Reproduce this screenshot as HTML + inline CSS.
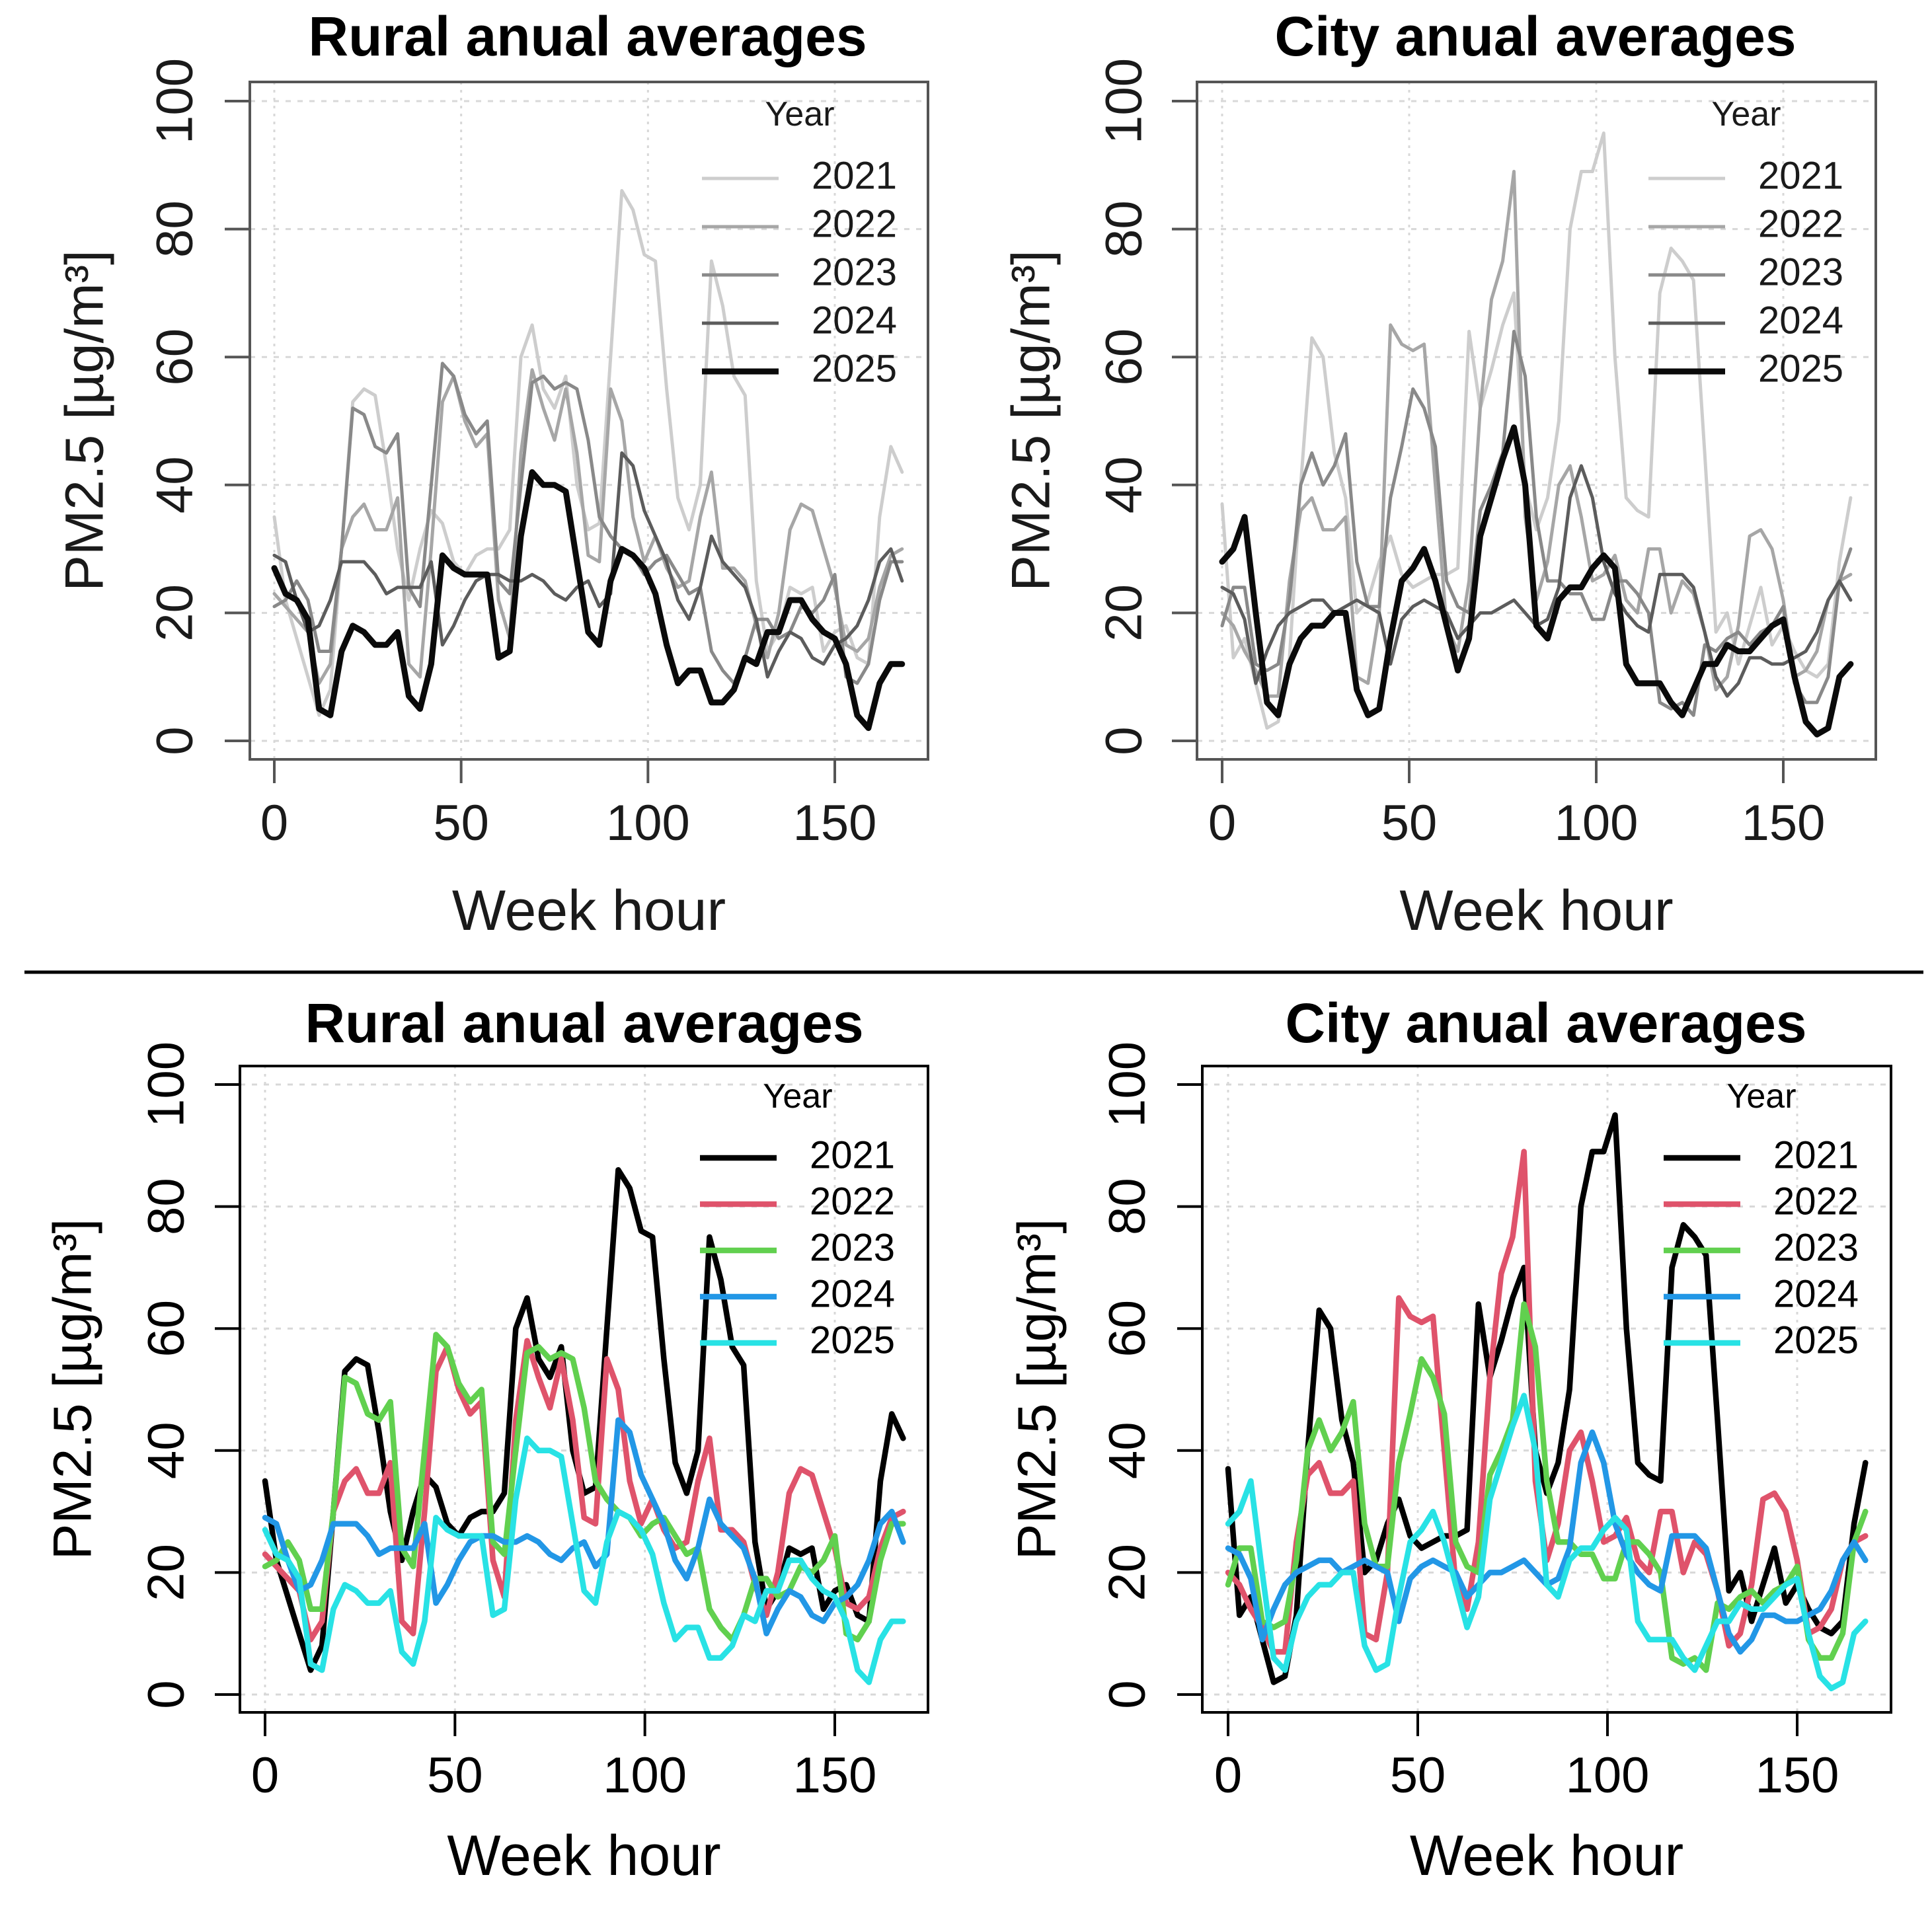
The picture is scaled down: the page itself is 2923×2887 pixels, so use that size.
<!DOCTYPE html>
<html><head><meta charset="utf-8">
<style>
html,body{margin:0;padding:0;background:#fff;}
svg{display:block;font-family:"Liberation Sans",Arial,sans-serif;}
</style></head>
<body>
<svg id="fig" width="2923" height="2887" viewBox="0 0 2923 2887" xmlns="http://www.w3.org/2000/svg">
<rect x="0" y="0" width="2923" height="2887" fill="#fff"/>
<line x1="37" y1="1471" x2="2910" y2="1471" stroke="#000" stroke-width="5"/>
</svg>
<script>
const hours = [0,3,6,9,12,15,18,21,24,27,30,33,36,39,42,45,48,51,54,57,60,63,66,69,72,75,78,81,84,87,90,93,96,99,102,105,108,111,114,117,120,123,126,129,132,135,138,141,144,147,150,153,156,159,162,165,168];
const years = ["2021","2022","2023","2024","2025"];
const yTicks = [0,20,40,60,80,100];
const xTicks = [0,50,100,150];

const rural2021 = [35,22,16,10,4,8,30,53,55,54, 43,30,22,30,36,34,28,26,29,30, 30,33,60,65,55,52,57,40,33,34, 60,86,83,76,75,55,38,33,40,75, 68,57,54,25,14,17,24,23,24,14, 17,18,13,12,35,46,42];
const rural2022 = [23,21,19,17,9,12,30,35,37,33, 33,38,12,10,30,53,57,50,46,48, 22,16,45,58,52,47,55,45,29,28, 55,50,35,28,32,27,24,25,35,42, 27,27,25,18,13,20,33,37,36,30, 24,15,14,16,24,29,30];
const rural2023 = [21,22,25,22,14,14,30,52,51,46, 45,48,24,21,40,59,57,51,48,50, 25,23,40,56,57,55,56,55,47,35, 32,30,29,26,28,29,26,23,24,14, 11,9,13,19,19,16,17,21,20,22, 26,10,9,12,22,28,28];
const rural2024 = [29,28,22,17,18,22,28,28,28,26, 23,24,24,24,28,15,18,22,25,26, 26,25,25,26,25,23,22,24,25,21, 23,45,43,36,32,28,22,19,24,32, 28,26,24,19,10,14,17,16,13,12, 15,16,18,22,28,30,25];
const rural2025 = [27,23,22,19,5,4,14,18,17,15, 15,17,7,5,12,29,27,26,26,26, 13,14,32,42,40,40,39,28,17,15, 25,30,29,27,23,15,9,11,11,6, 6,8,13,12,17,17,22,22,19,17, 16,12,4,2,9,12,12];

const city2021 = [37,13,16,9,2,3,13,40,63,60, 45,38,20,22,28,32,26,24,25,26, 26,27,64,52,58,65,70,40,33,38, 50,80,89,89,95,60,38,36,35,70, 77,75,72,45,17,20,12,18,24,15, 18,14,11,10,12,28,38];
const city2022 = [20,18,14,11,7,7,25,36,38,33, 33,35,10,9,20,65,62,61,62,40, 18,14,25,52,69,75,89,35,22,28, 40,43,35,25,26,29,22,20,30,30, 20,25,23,17,8,10,18,32,33,30, 22,10,11,14,22,25,26];
const city2023 = [18,24,24,12,11,12,22,40,45,40, 43,48,28,21,21,38,46,55,52,46, 25,21,20,36,40,45,64,57,35,25, 25,23,23,19,19,25,25,23,20,6, 5,6,4,15,14,16,17,15,17,18, 21,9,6,6,10,25,30];
const city2024 = [24,23,19,9,14,18,20,21,22,22, 20,21,22,21,20,12,19,21,22,21, 20,16,18,20,20,21,22,20,18,19, 24,38,43,38,28,23,20,18,17,26, 26,26,24,17,10,7,9,13,13,12, 12,13,14,17,22,25,22];
const city2025 = [28,30,35,20,6,4,12,16,18,18, 20,20,8,4,5,16,25,27,30,25, 18,11,16,32,38,44,49,40,18,16, 22,24,24,27,29,27,12,9,9,9, 6,4,8,12,12,15,14,14,16,18, 19,10,3,1,2,10,12];

const ruralSeries = [rural2021,rural2022,rural2023,rural2024,rural2025];
const citySeries = [city2021,city2022,city2023,city2024,city2025];

const NS = "http://www.w3.org/2000/svg";
const svg = document.getElementById("fig");
function mk(tag, attrs, parent){
  const e = document.createElementNS(NS, tag);
  for (const k in attrs) e.setAttribute(k, attrs[k]);
  (parent||svg).appendChild(e);
  return e;
}

const grayStyle = {colors:["#cdcdcd","#a6a6a6","#898989","#5c5c5c","#0a0a0a"], widths:[5,5,5,5,9], box:"#555", textCol:"#1a1a1a"};
const colorStyle = {colors:["#000000","#DF536B","#61D04F","#2297E6","#28E2E5"], widths:[8.5,8.5,8.5,8.5,8.5], box:"#000", textCol:"#000"};

const panels = [
  {key:"top-rural", title:"Rural anual averages", series:ruralSeries, st:grayStyle, bx:378,by:124,bw:1026,bh:1025, x0:415,x150:1263,y0:1121,y100:153, titleX:889,titleY:84, xLabY:1271, xTitleY:1407, yTickX:270, yTitleX:134, legX:1062, legY0:270, legDy:73, yearY:190},
  {key:"top-city", title:"City anual averages", series:citySeries, st:grayStyle, bx:1811,by:124,bw:1027,bh:1025, x0:1849,x150:2698,y0:1121,y100:153, titleX:2323,titleY:84, xLabY:1271, xTitleY:1407, yTickX:1706, yTitleX:1566, legX:2494, legY0:270, legDy:73, yearY:190},
  {key:"bottom-rural", title:"Rural anual averages", series:ruralSeries, st:colorStyle, bx:363,by:1613,bw:1041,bh:978, x0:401,x150:1263,y0:2564,y100:1641, titleX:884,titleY:1577, xLabY:2712, xTitleY:2837, yTickX:257, yTitleX:116, legX:1059, legY0:1752, legDy:70, yearY:1676},
  {key:"bottom-city", title:"City anual averages", series:citySeries, st:colorStyle, bx:1819,by:1613,bw:1042,bh:978, x0:1858,x150:2719,y0:2564,y100:1641, titleX:2339,titleY:1577, xLabY:2712, xTitleY:2837, yTickX:1711, yTitleX:1575, legX:2517, legY0:1752, legDy:70, yearY:1676}
];

panels.forEach(p=>{
  const g = mk("g",{});
  
  
  const sx = v => p.x0 + (p.x150-p.x0)*v/150;
  const sy = v => p.y0 - (p.y0-p.y100)*v/100;
  yTicks.forEach(t=>{
    const l = mk("line",{x1:p.bx,x2:p.bx+p.bw,y1:sy(t),y2:sy(t),stroke:"#d8d8d8","stroke-width":3,"stroke-dasharray":"8 10"},g);
    
    
  });
  xTicks.forEach(t=>{
    const l = mk("line",{x1:sx(t),x2:sx(t),y1:p.by,y2:p.by+p.bh,stroke:"#d8d8d8","stroke-width":3,"stroke-dasharray":"4 8"},g);
    
    
  });
  p.series.forEach((vals,i)=>{
    let d = "";
    vals.forEach((v,j)=>{ d += (j?"L":"M")+sx(hours[j]).toFixed(1)+","+sy(v).toFixed(1); });
    const path = mk("path",{d:d,fill:"none",stroke:p.st.colors[i],"stroke-width":p.st.widths[i],"stroke-linejoin":"round","stroke-linecap":"round"},g);
    
    
  });
  const box = mk("rect",{x:p.bx,y:p.by,width:p.bw,height:p.bh,fill:"none",stroke:p.st.box,"stroke-width":4},g);
  
  
  yTicks.forEach(t=>{
    const tk = mk("line",{x1:p.bx-38,x2:p.bx,y1:sy(t),y2:sy(t),stroke:p.st.box,"stroke-width":4},g);
    
    
    const tx = mk("text",{x:0,y:0,transform:"translate("+p.yTickX+","+sy(t)+") rotate(-90)","text-anchor":"middle","font-size":78,fill:p.st.textCol,"dominant-baseline":"middle"},g);
    tx.textContent = t;
    
    
  });
  xTicks.forEach(t=>{
    const tk = mk("line",{x1:sx(t),x2:sx(t),y1:p.by+p.bh,y2:p.by+p.bh+36,stroke:p.st.box,"stroke-width":4},g);
    
    
    const tx = mk("text",{x:sx(t),y:p.xLabY,"text-anchor":"middle","font-size":76,fill:p.st.textCol},g);
    tx.textContent = t;
    
    
  });
  const ti = mk("text",{x:p.titleX,y:p.titleY,"text-anchor":"middle","font-size":84,"font-weight":"bold",fill:"#000"},g);
  ti.textContent = p.title;
  
  
  const xt = mk("text",{x:(p.bx+p.bw/2),y:p.xTitleY,"text-anchor":"middle","font-size":86,fill:p.st.textCol},g);
  xt.textContent = "Week hour";
  
  
  const yt = mk("text",{x:0,y:0,transform:"translate("+p.yTitleX+","+(p.by+p.bh/2)+") rotate(-90)","text-anchor":"middle","font-size":82,fill:p.st.textCol,"dominant-baseline":"middle"},g);
  yt.textContent = "PM2.5 [µg/m³]";
  
  
  const lg = mk("g",{},g);
  
  
  const yr = mk("text",{x:p.legX+148,y:p.yearY,"text-anchor":"middle","font-size":52,fill:p.st.textCol},lg);
  yr.textContent = "Year";
  
  
  years.forEach((y,i)=>{
    const ly = p.legY0 + i*p.legDy;
    const ll = mk("line",{x1:p.legX,x2:p.legX+116,y1:ly,y2:ly,stroke:p.st.colors[i],"stroke-width":p.st.widths[i]},lg);
    
    
    const lt = mk("text",{x:p.legX+166,y:ly,"font-size":58,fill:p.st.textCol,"dominant-baseline":"middle"},lg);
    lt.textContent = y;
    
    
  });
});
</script>
</body></html>
